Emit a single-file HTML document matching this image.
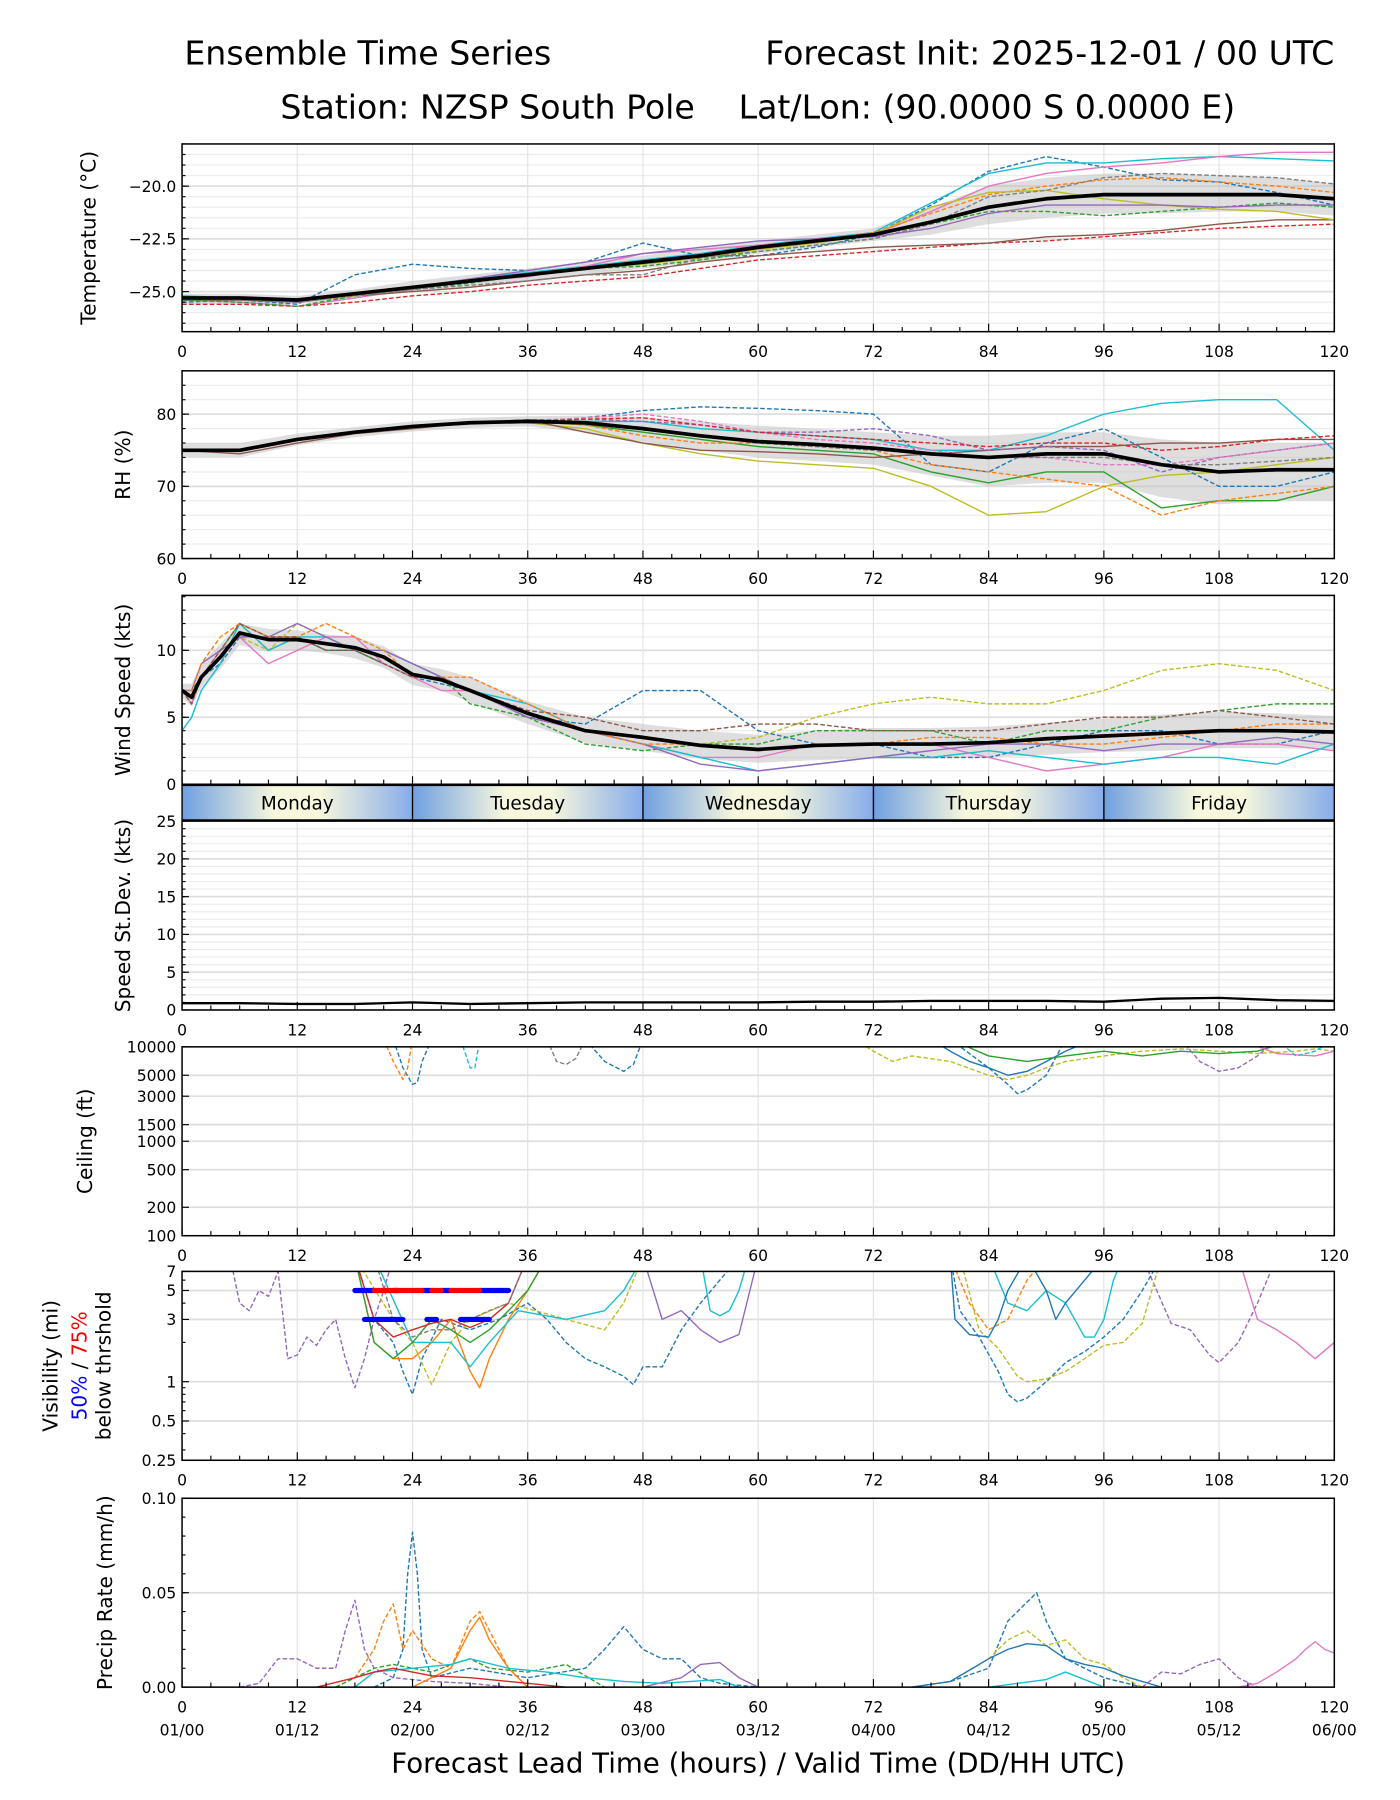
<!DOCTYPE html>
<html><head><meta charset="utf-8"><style>
html,body{margin:0;padding:0;background:#fff}
svg{display:block;font-family:"DejaVu Sans","Liberation Sans",sans-serif}
</style></head><body>
<svg id="fig" width="1400" height="1800" viewBox="0 0 1215 1563" preserveAspectRatio="none" xmlns="http://www.w3.org/2000/svg">
<defs>
<linearGradient id="dayg" x1="0" x2="1" y1="0" y2="0">
<stop offset="0" stop-color="#6f9fe0"/><stop offset="0.4" stop-color="#f7f7de"/><stop offset="0.6" stop-color="#f7f7de"/><stop offset="1" stop-color="#86acea"/>
</linearGradient>
</defs>
<text x="160" y="56" font-size="28.8">Ensemble Time Series</text>
<text x="1158" y="56" font-size="28.8" text-anchor="end">Forecast Init: 2025-12-01 / 00 UTC</text>
<text x="603" y="103" font-size="28.8" text-anchor="end">Station: NZSP South Pole</text>
<text x="641" y="103" font-size="28.8">Lat/Lon: (90.0000 S 0.0000 E)</text>
<text x="658" y="1539" font-size="24" text-anchor="middle">Forecast Lead Time (hours) / Valid Time (DD/HH UTC)</text>
</svg>
<script>
const C=['#1f77b4','#ff7f0e','#2ca02c','#d62728','#9467bd','#8c564b','#e377c2','#7f7f7f','#bcbd22','#17becf'];
const hours6=[0,6,12,18,24,30,36,42,48,54,60,66,72,78,84,90,96,102,108,114,120];
const xTicks=[0,12,24,36,48,60,72,84,96,108,120];
const dateLabels=['01/00','01/12','02/00','02/12','03/00','03/12','04/00','04/12','05/00','05/12','06/00'];
const dayNames=['Monday','Tuesday','Wednesday','Thursday','Friday'];
// Temperature
const tempMean=[-25.3,-25.3,-25.4,-25.1,-24.8,-24.5,-24.2,-23.9,-23.6,-23.3,-22.9,-22.6,-22.3,-21.7,-21.0,-20.6,-20.4,-20.4,-20.4,-20.4,-20.6];
const tempUpper=[-25.1,-25.1,-25.2,-24.9,-24.5,-24.2,-23.9,-23.6,-23.3,-22.9,-22.6,-22.3,-22.0,-21.0,-20.0,-19.6,-19.4,-19.4,-19.5,-19.6,-19.9];
const tempLower=[-25.6,-25.6,-25.6,-25.3,-25.0,-24.8,-24.5,-24.2,-23.9,-23.6,-23.2,-22.9,-22.6,-22.3,-21.8,-21.5,-21.3,-21.3,-21.2,-21.2,-21.4];
const tempMembers=[
[-25.5,-25.4,-25.6,-24.2,-23.7,-23.9,-24.0,-23.6,-22.7,-23.3,-23.3,-22.9,-22.3,-20.9,-19.3,-18.6,-19.1,-19.7,-19.8,-20.3,-20.9],
[-25.2,-25.3,-25.5,-25.1,-24.8,-24.4,-24.1,-23.8,-23.5,-23.2,-22.8,-22.5,-22.2,-20.8,-19.4,-18.9,-18.9,-18.7,-18.6,-18.7,-18.8],
[-25.4,-25.5,-25.7,-25.3,-24.9,-24.5,-24.3,-23.8,-23.2,-23.0,-22.8,-22.6,-22.3,-21.2,-20.0,-19.4,-19.1,-18.9,-18.6,-18.4,-18.4],
[-25.6,-25.6,-25.7,-25.5,-25.2,-25.0,-24.7,-24.5,-24.3,-23.9,-23.5,-23.3,-23.1,-22.9,-22.7,-22.6,-22.4,-22.2,-22.0,-21.9,-21.8],
[-25.4,-25.4,-25.5,-25.2,-25.0,-24.8,-24.5,-24.2,-24.0,-23.6,-23.3,-23.1,-22.9,-22.8,-22.7,-22.4,-22.3,-22.1,-21.8,-21.6,-21.6],
[-25.3,-25.3,-25.4,-25.1,-24.8,-24.5,-24.2,-23.9,-23.7,-23.4,-23.0,-22.6,-22.2,-21.3,-20.4,-20.0,-19.7,-19.6,-19.8,-20.0,-20.3],
[-25.4,-25.5,-25.7,-25.2,-24.9,-24.6,-24.2,-23.9,-23.8,-23.5,-23.1,-22.8,-22.5,-21.8,-21.2,-21.2,-21.4,-21.2,-21.0,-20.8,-21.0],
[-25.3,-25.3,-25.5,-25.2,-24.8,-24.5,-24.2,-23.9,-23.7,-23.4,-23.0,-22.7,-22.3,-21.0,-20.3,-20.2,-20.6,-20.9,-21.1,-21.2,-21.6],
[-25.3,-25.4,-25.5,-25.2,-24.9,-24.7,-24.5,-24.2,-24.2,-23.4,-23.1,-22.8,-22.5,-21.8,-20.5,-20.2,-19.6,-19.4,-19.5,-19.6,-19.9],
[-25.3,-25.3,-25.5,-25.1,-24.8,-24.4,-24.0,-23.6,-23.2,-22.9,-22.6,-22.5,-22.4,-22.0,-21.3,-20.9,-20.9,-20.9,-21.0,-20.9,-20.9]];
const tempColors=[0,9,6,3,5,1,2,8,7,4];
const tempDashed=[1,0,0,1,0,1,1,0,1,0];
// RH
const rhMean=[75,75,76.5,77.5,78.3,78.8,79,78.8,78,77,76.2,75.8,75.3,74.5,74,74.5,74.5,73,72,72.3,72.3];
const rhUpper=[76,76,77.3,78.2,79,79.5,79.7,79.8,79.6,79,78.4,78,77.5,77,77,77.5,77.5,76.5,76,76,76];
const rhLower=[74,74,75.7,76.8,77.6,78.1,78.3,77.5,76.2,75,74,73.5,73,71.5,70,70.5,70.5,68.5,67.5,68,68];
const rhMembers=[
[75,75,76.5,77.5,78.3,78.8,78.8,78,76,74.5,73.5,73,72.5,70,66,66.5,70,71.5,72,73,74],
[75,75,76.5,77.5,78.3,78.8,79,79.5,80.5,81,80.8,80.5,80,73,72,76,78,74,70,70,72],
[75,75,76.5,77.5,78.3,78.8,79.2,79,79,78,77.5,77,76.5,75,75,77,80,81.5,82,82,75],
[75,75,76.5,77.5,78.3,78.8,79,78.5,77.5,76.5,75.5,75,74.5,72,70.5,72,72,67,68,68,70],
[75,75,76.5,77.5,78.3,78.8,79,78.5,77,76,76,75.5,75,73,72,71,70,66,68,69,70],
[75,74.5,76,77.3,78,78.8,79.2,77.5,76,75,74.8,74.5,74,74.5,75,75.5,75.5,76,76,76.5,76.5],
[75,75,76.5,77.5,78.3,78.8,79.2,79.3,79,78.5,77.5,77.5,78,77,75,75.5,75,72,74,75,76],
[75,75,76.5,77.5,78.3,78.8,79,79.5,80,79,77.5,76.5,76,75,74,74,73,73,74,75,76],
[75,75,76.5,77.5,78.3,78.8,79,79.3,79.5,78.5,77.5,77,76.5,76,75.5,76,76,75,75.5,76.5,77],
[75,75,76.5,77.5,78.3,78.8,79,78.6,77.8,77,76,75.5,75,74.5,74,74,74,73,73,73.5,74]];
const rhColors=[8,0,9,2,1,5,4,6,3,7];
const rhDashed=[0,1,0,0,1,0,1,1,1,1];
// Wind
const windHours=[0,1,2,4,6,9,12,15,18,21,24,27,30,36,42,48,54,60,66,72,78,84,90,96,102,108,114,120];
const windMean=[7,6.5,8,9.5,11.3,10.8,10.8,10.5,10.2,9.5,8.2,7.8,7,5.3,4,3.5,2.9,2.6,2.9,3.0,3.0,3.1,3.4,3.6,3.8,4.0,4.0,3.9];
const windUpper=[7.5,7.5,9,10.5,12,11.6,11.5,11.2,11,10.3,9,8.6,8,6.2,5,4.5,4,3.7,4,4.2,4.2,4.3,4.6,4.9,5.2,5.4,5.3,5.1];
const windLower=[6.5,5.8,7.2,8.6,10.4,9.9,10,9.8,9.4,8.7,7.4,7,6.1,4.5,3.1,2.5,1.9,1.6,1.8,1.9,1.9,2,2.2,2.4,2.5,2.7,2.7,2.6];
const windMembers=[
[7,6,8,10,11,10,12,11,10,9,8,8,7,5,4,3.5,3,3.5,5,6,6.5,6,6,7,8.5,9,8.5,7],
[7,6,8,9,11,11,11,10,10,9,8,7.5,7,5,4.5,7,7,4,3,3,2,2,3,4,4,3,3,4],
[7,7,8,10,12,10,11,10,10,9,8,8,6,5,3,2.5,3,3,4,4,4,3,4,4,5,5.5,6,6],
[7,6,8,10,11,9,10,11,11,9,8,7,7,5,4,3,2,2,3,3,3,2,1,1.5,2,3,3,2.5],
[4,5,7,9,12,10,11,11,10,10,9,8,7,6,4,3,2,1,1.5,2,2,2.5,2,1.5,2,2,1.5,3],
[7,7,9,10,11,11,12,11,10,10,9,8,7,5,4,3,1.5,1,1.5,2,2.5,3,3,2.5,3,3,3.5,3],
[7,7,9,11,12,11,11,12,11,10,8,8,8,6,4,3,3,2.5,3,3,3.5,3.5,3,3,3.5,4,4.5,4.5],
[7,6,8,10,12,11,11,10,10,9,8,8,7,5.5,5,4,4,4.5,4.5,4,4,4,4.5,5,5,5.5,5,4.5]];
const windColors=[8,0,2,6,9,4,1,5];
const windDashed=[1,1,1,0,0,0,1,1];
// Speed st.dev
const sdMean=[0.9,0.9,0.8,0.8,1.0,0.8,0.9,1.0,1.0,1.0,1.0,1.1,1.1,1.2,1.2,1.2,1.1,1.5,1.6,1.3,1.2];
// Ceiling (ft)
const ceilHours=[[22,23,24,24.5,25,26],[21,22,23,23.5,24],[29,30,30.5,31],[38,39,40,41,42],[42,44,46,47,48],[70,72,74,76,80,84,86,88,90,92,96,100,104,108,112,116,118,120],[78,80,82,84,86,88,90,92,94,96],[80,84,86,87,88,90,92],[80,84,88,92,96,100,104,108,112,116],[104,106,108,110,112,114],[110,114,118,120],[114,116,118,120]];
const ceilValues=[[12000,6000,4000,4200,7000,12000],[12000,7000,4500,6000,12000],[12000,6000,6000,12000],[12000,7000,6500,7500,12000],[12000,7000,5500,6500,12000],[12000,9000,7000,8000,7000,5000,4500,5000,6000,7000,8000,9000,9500,9000,8500,9000,9500,9000],[12000,9000,7000,6000,5000,5500,7000,9000,11000,12000],[12000,6000,4000,3200,3500,5000,12000],[12000,8000,7000,8000,9000,8000,9000,8500,9000,12000],[12000,7000,5500,6000,8000,12000],[12000,8500,8000,9000],[12000,8000,9000,12000]];
const ceilColors=[0,1,9,7,0,8,0,0,2,4,6,9];
const ceilDashed=[1,1,1,1,1,1,0,1,0,1,0,1];
// Visibility (mi)
const visHours=[[5,6,7,8,9,10,11,12,13,14,15,16,17,18,19,20,21,22],[48,50,52,54,56,58,60],[100,103,105,107,108,110,112,114],[18,20,22,23,24,25,27,30,33,36,38,40,42,44,46,47,48,50,52,54,56,58],[80,81,83,85,86,87,88,90,92,94,96,98,100,102],[18,20,22,24,26,28,30,31,32,34,36,38],[80,82,84,86,88,90],[18,22,24,26,28,30,34,40,44,46,48],[81,83,85,87,88,90,92,94,96,98,100,102],[20,24,28,30,32,35,40,44,46,48],[54,55,56,57,58,59,60],[84,86,88,90,92,94,95,96,97,98],[18,20,22,24,26,28,30,32,34,36,38],[80,80.5,82,84,85,86,88,90,91,92,94,96],[110,112,114,116,118,120],[18,20,22,24,26,28,30,32,34,36],[20,22,24,26,28,30,32,34,36]];
const visValues=[[9,4,3.5,5,4.5,7,1.5,1.6,2.2,1.9,2.5,3,1.5,0.9,1.5,3,5,9],[9,3,3.5,2.5,2,2.3,9],[9,2.8,2.5,1.6,1.4,2,4,9],[9,3,2,1.2,0.8,1.5,3,2.5,3,4,3,2,1.5,1.3,1.1,0.95,1.3,1.3,2.5,4,6,9],[9,3.5,2.2,1.2,0.8,0.7,0.75,1,1.4,1.7,2.2,3,5,9],[9,2,1.5,1.5,2,3,1.2,0.9,1.5,3,5,9],[9,4,2.5,3,6,9],[9,3,2,0.95,2,3,4,3,2.5,4,9],[9,2.5,1.8,1.1,1.0,1.05,1.2,1.5,1.9,2,2.8,9],[9,2,2,1.3,2,3.5,3,3.5,5,9],[9,3.5,3.2,3.5,5,9,9],[9,4,3.5,5,4,2.2,2.2,3,6,9],[9,2,1.5,2,3,2.5,2,2.5,3.5,5,9],[9,3,2.3,2.2,3,5,9,5,3,4,6,9],[9,3,2.5,2,1.5,2],[9,3,2.2,2.5,2.8,3,2.6,3,4,9],[9,3,2.2,2.5,2.5,3,3.5,4,9]];
const visColors=[4,4,4,0,0,1,1,8,8,9,9,9,2,0,6,3,7];
const visDashed=[1,0,1,1,1,0,1,1,1,0,0,0,0,0,0,0,1];
const thr50Segments=[[18,20],[22,22.5],[25,26],[27,28],[31,34],[19,23],[25.5,26.5],[29,32]];
const thr50Levels=[5,5,5,5,5,3,3,3];
const thr75Segments=[[20,25],[26,27],[28,31]];
const thr75Levels=[5,5,5];
// Precip (mm/h)
const prHours=[[20,22,23,23.5,24,24.5,25,26,30,36,42,44,46,48,50,52,54,56,60,76,80,84,86,87,88,89,90,92,96,100],[6,8,10,12,14,16,17,18,19,20,22,26,30,34],[48,52,54,56,58,60],[100,102,104,106,108,110,112],[16,18,20,21,22,23,24,26,28,30,31,32,34,36],[24,28,30,31,32,34,36],[76,80,84,86,88,90,92,94,96,98,100],[76,80,84,86,88,90,92,94,96,98,102],[110,112,114,116,117,118,119,120],[16,20,22,24,26,28,30,32,36,40,44],[18,20,24,28,30,34,38,42,46,50,56,58,84,90,92,96],[14,18,20,22,24,26,30,34,40]];
const prValues=[[0,0.005,0.02,0.06,0.082,0.06,0.02,0.005,0.01,0.005,0.01,0.02,0.032,0.02,0.015,0.015,0.005,0.002,0,0,0.003,0.01,0.035,0.04,0.045,0.05,0.035,0.015,0.005,0],[0,0.002,0.015,0.015,0.01,0.01,0.03,0.046,0.02,0.01,0.005,0.003,0.002,0],[0,0.005,0.012,0.013,0.005,0],[0,0.008,0.007,0.012,0.015,0.005,0],[0,0.005,0.02,0.035,0.044,0.02,0.03,0.015,0.01,0.035,0.04,0.03,0.01,0],[0,0.01,0.03,0.037,0.025,0.01,0],[0,0.003,0.015,0.025,0.03,0.022,0.025,0.015,0.012,0.005,0],[0,0.003,0.015,0.02,0.023,0.022,0.015,0.012,0.01,0.006,0],[0,0.002,0.008,0.015,0.02,0.024,0.02,0.018],[0,0.01,0.012,0.01,0.008,0.012,0.015,0.01,0.008,0.012,0],[0,0.008,0.01,0.012,0.015,0.01,0.008,0.005,0.003,0.002,0.004,0,0,0.004,0.008,0],[0,0.005,0.008,0.01,0.008,0.006,0.005,0.003,0]];
const prColors=[0,4,4,4,1,1,8,0,6,2,9,3];
const prDashed=[1,1,0,1,1,0,1,0,0,1,0,0];

const NS='http://www.w3.org/2000/svg';
const svg=document.getElementById('fig');
const X0=158,X1=1158;
function xs(h){return X0+(h/120)*(X1-X0);}
function mk(tag,attrs,parent){const e=document.createElementNS(NS,tag);for(const k in attrs)e.setAttribute(k,attrs[k]);(parent||svg).appendChild(e);return e;}
function makeY(p){
  if(p.log){const a=Math.log(p.min),b=Math.log(p.max);return v=>p.bot-(Math.log(v)-a)/(b-a)*(p.bot-p.top);}
  return v=>p.bot-(v-p.min)/(p.max-p.min)*(p.bot-p.top);
}
let clipN=0;
function panel(p){
  const ys=makeY(p);
  const g=mk('g',{});
  
  
  const cid='clip'+(clipN++);
  const cp=mk('clipPath',{id:cid},g);mk('rect',{x:X0,y:p.top,width:X1-X0,height:p.bot-p.top},cp);
  (p.grid||[]).forEach(v=>{const l=mk('line',{x1:X0,x2:X1,y1:ys(v),y2:ys(v),stroke:'#ececec','stroke-width':1},g);
    
    });
  p.ticks.forEach(v=>{const l=mk('line',{x1:X0,x2:X1,y1:ys(v),y2:ys(v),stroke:'#dedede','stroke-width':1.5},g);
    
    });
  xTicks.forEach(h=>{const l=mk('line',{x1:xs(h),x2:xs(h),y1:p.top,y2:p.bot,stroke:'#e2e2e2','stroke-width':1},g);
    
    });
  const dg=mk('g',{'clip-path':'url(#'+cid+')'},g);
  
  
  p.draw(dg,ys);
  const fr=mk('rect',{x:X0,y:p.top,width:X1-X0,height:p.bot-p.top,fill:'none',stroke:'#000','stroke-width':1.3},g);
  
  
  p.ticks.forEach((v,i)=>{mk('line',{x1:X0,x2:X0+6,y1:ys(v),y2:ys(v),stroke:'#000'},g);
    const t=mk('text',{x:X0-5,y:ys(v)+5,'font-size':13.5,'text-anchor':'end'},g);t.textContent=p.labels[i];
    
    });
  (p.minor||[]).forEach(v=>{mk('line',{x1:X0,x2:X0+3,y1:ys(v),y2:ys(v),stroke:'#000'},g);});
  for(let h=0;h<=120;h+=3){const maj=h%12===0;mk('line',{x1:xs(h),x2:xs(h),y1:p.bot,y2:p.bot-(maj?7:4),stroke:'#000'},g);}
  if(!p.noX){xTicks.forEach(h=>{const t=mk('text',{x:xs(h),y:p.bot+22,'font-size':13.5,'text-anchor':'middle'},g);t.textContent=h;
    
    });}
  const lab=mk('text',{transform:'translate('+p.lx+','+((p.top+p.bot)/2)+') rotate(-90)','font-size':17.5,'text-anchor':'middle'},g);
  lab.innerHTML=p.ylabel;
  
  
  return ys;
}
function line(g,hs,vals,ys,color,w,dash,name){
  let d='';hs.forEach((h,i)=>{d+=(i?'L':'M')+xs(h).toFixed(1)+','+ys(vals[i]).toFixed(1);});
  const pth=mk('path',{d:d,fill:'none',stroke:color,'stroke-width':w,'stroke-dasharray':dash?'4,2':'none','stroke-linejoin':'round'},g);
  
  
}
function band(g,hs,up,lo,ys){
  let d='';hs.forEach((h,i)=>{d+=(i?'L':'M')+xs(h)+','+ys(up[i]);});
  for(let i=hs.length-1;i>=0;i--)d+='L'+xs(hs[i])+','+ys(lo[i]);
  const b=mk('path',{d:d+'Z',fill:'#bdbdbd','fill-opacity':0.5},g);
  
  
}
function range(a,b,s){const r=[];for(let v=a;v<=b+1e-9;v+=s)r.push(+v.toFixed(4));return r;}

panel({name:'temperature',top:125,bot:288,min:-26.9,max:-18,ticks:[-25,-22.5,-20],labels:['\u221225.0','\u221222.5','\u221220.0'],grid:range(-26.5,-18,0.5),minor:range(-26.5,-18,0.5),lx:83,ylabel:'Temperature (°C)',
 draw:(g,ys)=>{band(g,hours6,tempUpper,tempLower,ys);tempMembers.forEach((m,i)=>line(g,hours6,m,ys,C[tempColors[i]],1.2,tempDashed[i],'temperature-member'));line(g,hours6,tempMean,ys,'#000',3.2,0,'temperature-mean-line');}});
panel({name:'rh',top:322,bot:485,min:60,max:86,ticks:[60,70,80],labels:['60','70','80'],grid:range(62,86,2),minor:range(62,86,2),lx:113,ylabel:'RH (%)',
 draw:(g,ys)=>{band(g,hours6,rhUpper,rhLower,ys);rhMembers.forEach((m,i)=>line(g,hours6,m,ys,C[rhColors[i]],1.2,rhDashed[i],'rh-member'));line(g,hours6,rhMean,ys,'#000',3.2,0,'rh-mean-line');}});
panel({name:'wind',top:517,bot:681,min:0,max:14.1,noX:true,ticks:[0,5,10],labels:['0','5','10'],grid:range(1,14,1),minor:range(1,14,1),lx:113,ylabel:'Wind Speed (kts)',
 draw:(g,ys)=>{band(g,windHours,windUpper,windLower,ys);windMembers.forEach((m,i)=>line(g,windHours,m,ys,C[windColors[i]],1.2,windDashed[i],'wind-member'));line(g,windHours,windMean,ys,'#000',3.2,0,'wind-mean-line');}});
panel({name:'speed-stdev',top:713,bot:877,min:0,max:25,ticks:[0,5,10,15,20,25],labels:['0','5','10','15','20','25'],grid:range(1,25,1),minor:range(1,25,1),lx:113,ylabel:'Speed St.Dev. (kts)',
 draw:(g,ys)=>{line(g,hours6,sdMean,ys,'#000',2,0,'speed-stdev-line');}});
panel({name:'ceiling',top:909,bot:1073,min:100,max:10000,log:true,ticks:[100,200,500,1000,1500,3000,5000,10000],labels:['100','200','500','1000','1500','3000','5000','10000'],lx:80,ylabel:'Ceiling (ft)',
 draw:(g,ys)=>{ceilHours.forEach((hs,i)=>line(g,hs,ceilValues[i],ys,C[ceilColors[i]],1.2,ceilDashed[i],'ceiling-member'));}});
panel({name:'visibility',top:1104,bot:1268,min:0.25,max:7,log:true,ticks:[0.25,0.5,1,3,5,7],labels:['0.25','0.5','1','3','5','7'],minor:[0.3,0.4,0.6,0.7,0.8,0.9,2,4,6],lx:50,ylabel:'Visibility (mi)',
 draw:(g,ys)=>{visHours.forEach((hs,i)=>line(g,hs,visValues[i],ys,C[visColors[i]],1.2,visDashed[i],'visibility-member'));
   thr50Segments.forEach((s,i)=>{const l=mk('line',{x1:xs(s[0]),x2:xs(s[1]),y1:ys(thr50Levels[i]),y2:ys(thr50Levels[i]),stroke:'#0000ff','stroke-width':4.5,'stroke-linecap':'round'},g);
     
     });
   thr75Segments.forEach((s,i)=>{const l=mk('line',{x1:xs(s[0]),x2:xs(s[1]),y1:ys(thr75Levels[i]),y2:ys(thr75Levels[i]),stroke:'#ff0000','stroke-width':4.5,'stroke-linecap':'round'},g);
     
     });}});
panel({name:'precip',top:1301,bot:1465,min:0,max:0.1,ticks:[0,0.05,0.1],labels:['0.00','0.05','0.10'],minor:range(0.01,0.09,0.01),lx:97,ylabel:'Precip Rate (mm/h)',
 draw:(g,ys)=>{prHours.forEach((hs,i)=>line(g,hs,prValues[i],ys,C[prColors[i]],1.2,prDashed[i],'precip-member'));}});
(function(){const t1=mk('text',{transform:'translate(75,1186) rotate(-90)','font-size':17.5,'text-anchor':'middle'});
 t1.innerHTML='<tspan fill="#0000ff">50%</tspan> / <tspan fill="#ff0000">75%</tspan>';
 
 
 const t2=mk('text',{transform:'translate(96,1186) rotate(-90)','font-size':17.5,'text-anchor':'middle'});t2.textContent='below thrshold';
 
 })();
dateLabels.forEach((d,i)=>{const t=mk('text',{x:xs(xTicks[i]),y:1507,'font-size':13.5,'text-anchor':'middle'});t.textContent=d;
 
 });
dayNames.forEach((n,i)=>{const r=mk('rect',{x:xs(i*24),y:682,width:xs(24)-xs(0),height:30,fill:'url(#dayg)'});
 
 
 const t=mk('text',{x:xs(i*24+12),y:703,'font-size':16,'text-anchor':'middle'});t.textContent=n;
 
 
 if(i>0)mk('line',{x1:xs(i*24),x2:xs(i*24),y1:682,y2:712,stroke:'#000','stroke-width':1.2});});
mk('rect',{x:X0,y:682,width:X1-X0,height:30,fill:'none',stroke:'#000','stroke-width':1.2});
</script>
</body></html>
